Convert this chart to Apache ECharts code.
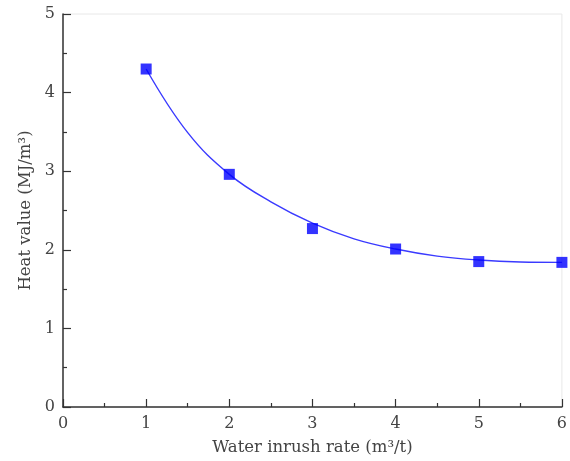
<!DOCTYPE html>
<html>
<head>
<meta charset="utf-8">
<script src="https://cdn.jsdelivr.net/npm/echarts@6/dist/echarts.min.js"></script>
<style>
  html, body { margin: 0; padding: 0; background: #fff; }
  #chart { width: 570px; height: 461px; }
</style>
</head>
<body>
<div id="chart"></div>
<script>
// Measured heat value at each water inrush rate
const rates = [1, 2, 3, 4, 5, 6];
const heatValues = [4.30, 2.96, 2.27, 2.01, 1.85, 1.84];

// Fitted trend curve, sampled every half unit
const fitRates = [1, 1.5, 2, 2.5, 3, 3.5, 4, 4.5, 5, 5.5, 6];
const fitValues = [4.30, 3.49, 2.96, 2.61, 2.34, 2.14, 2.01, 1.92, 1.87, 1.845, 1.84];

const xTicks = [0, 1, 2, 3, 4, 5, 6];
const yTicks = [0, 1, 2, 3, 4, 5];

const font = 'DejaVu Serif';
const axisColor = '#333';
const labelColor = '#444';

const chart = echarts.init(document.getElementById('chart'));

chart.setOption({
  animation: false,
  backgroundColor: '#fff',
  grid: {
    left: 63, right: 7, top: 14, bottom: 54,
    show: true, borderColor: '#e8e8e8', borderWidth: 1, backgroundColor: 'transparent'
  },
  xAxis: {
    type: 'value',
    min: xTicks[0], max: xTicks[xTicks.length - 1], interval: 1,
    name: 'Water inrush rate (m³/t)',
    nameLocation: 'middle', nameGap: 32,
    nameTextStyle: { fontFamily: font, fontSize: 16.5, color: labelColor },
    axisLine: { show: true, onZero: false, lineStyle: { color: axisColor, width: 1.5 } },
    axisTick: { show: true, inside: true, length: 8, lineStyle: { color: axisColor, width: 1.2 } },
    minorTick: { show: true, splitNumber: 2, length: 4, lineStyle: { color: axisColor, width: 1.2 } },
    splitLine: { show: false },
    axisLabel: { fontFamily: font, fontSize: 16, color: labelColor, margin: 9 }
  },
  yAxis: {
    type: 'value',
    min: yTicks[0], max: yTicks[yTicks.length - 1], interval: 1,
    name: 'Heat value (MJ/m³)',
    nameLocation: 'middle', nameGap: 29,
    nameTextStyle: { fontFamily: font, fontSize: 16.5, color: labelColor },
    axisLine: { show: true, onZero: false, lineStyle: { color: axisColor, width: 1.5 } },
    axisTick: { show: true, inside: true, length: 8, lineStyle: { color: axisColor, width: 1.2 } },
    minorTick: { show: true, splitNumber: 2, length: 4, lineStyle: { color: axisColor, width: 1.2 } },
    splitLine: { show: false },
    axisLabel: { fontFamily: font, fontSize: 16, color: labelColor, margin: 8 }
  },
  series: [
    {
      type: 'line',
      data: fitRates.map((x, i) => [x, fitValues[i]]),
      smooth: 0.4,
      showSymbol: false,
      lineStyle: { color: '#3a3aff', width: 1.4 },
      z: 2
    },
    {
      type: 'scatter',
      data: rates.map((x, i) => [x, heatValues[i]]),
      symbol: 'rect',
      symbolSize: 11,
      itemStyle: { color: '#0000ff' },
      z: 3
    }
  ]
});
</script>
</body>
</html>
